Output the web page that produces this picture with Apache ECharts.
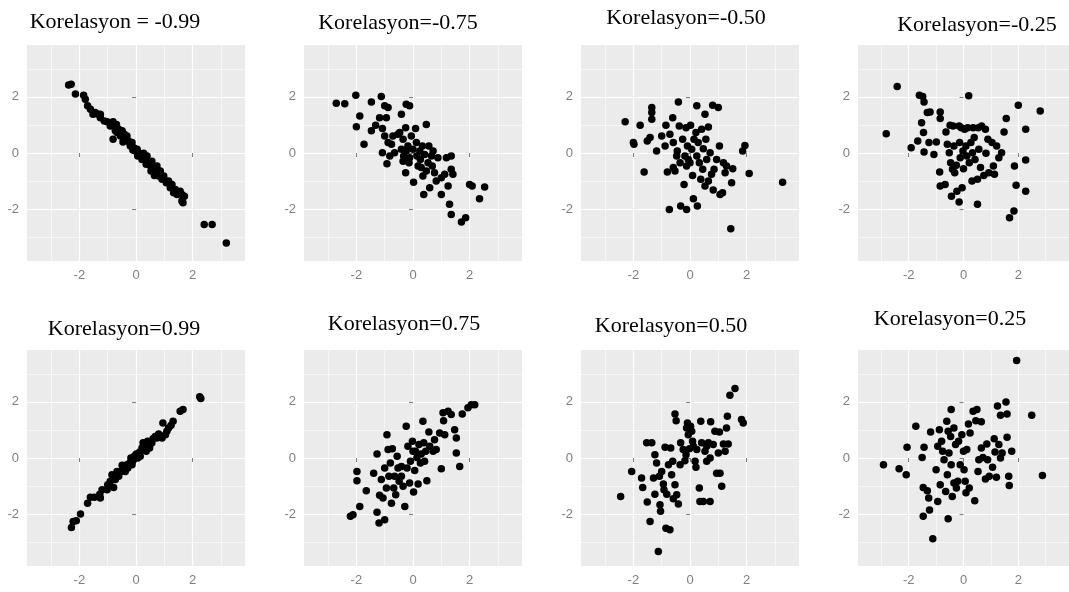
<!DOCTYPE html>
<html>
<head>
<meta charset="utf-8">
<script src="https://cdn.jsdelivr.net/npm/echarts@6/dist/echarts.min.js"></script>
<style>
html,body{margin:0;padding:0;background:#fff;}
#chart{width:1069px;height:592px;}
</style>
</head>
<body>
<div id="chart"></div>
<script>
// ---- data ----
const titles = ["Korelasyon = -0.99","Korelasyon=-0.75","Korelasyon=-0.50","Korelasyon=-0.25",
                "Korelasyon=0.99","Korelasyon=0.75","Korelasyon=0.50","Korelasyon=0.25"];
const majorTicks = [-2, 0, 2];
const minorTicks = [-3, -1, 1, 3];
const axisMin = -3.85, axisMax = 3.85;

const corrNeg099 = [[-2.38,2.42],[-2.29,2.45],[-2.14,2.10],[-1.85,2.06],[-1.79,1.92],[-1.71,1.68],[-1.61,1.56],[-1.44,1.44],[-1.35,1.38],[-1.26,1.26],[-1.12,1.14],[-1.02,1.11],[-0.81,1.11],[-0.79,0.96],[-0.73,0.79],[-0.81,0.49],[-0.67,0.73],[-0.61,0.85],[-0.55,0.61],[-0.49,0.79],[-0.44,0.55],[-0.41,0.67],[-0.34,0.49],[-0.26,0.43],[-0.20,0.25],[-0.14,0.37],[-0.08,0.19],[-0.02,0.07],[0.04,0.13],[0.09,0.01],[0.15,-0.11],[0.27,-0.01],[0.33,-0.20],[0.39,-0.11],[0.45,-0.35],[0.51,-0.46],[0.56,-0.29],[0.62,-0.58],[0.68,-0.70],[0.74,-0.46],[0.80,-0.82],[0.86,-0.64],[0.92,-0.94],[0.98,-0.82],[1.07,-1.06],[1.15,-1.00],[1.21,-1.24],[1.27,-1.12],[1.33,-1.42],[1.39,-1.30],[1.45,-1.48],[1.56,-1.36],[1.62,-1.48],[1.71,-1.54],[1.66,-1.77],[1.62,-1.71],[2.41,-2.55],[2.69,-2.55],[3.19,-3.21],[-0.91,0.96],[-0.69,1.02],[-0.58,0.70],[-0.46,0.39],[-0.32,0.61],[-0.22,0.35],[-0.11,0.11],[0.06,-0.11],[0.21,-0.23],[0.36,-0.40],[0.53,-0.64],[0.65,-0.80],[-1.26,1.38],[-1.52,1.38]];
const corrNeg075 = [[-2.71,1.77],[-2.41,1.76],[-2.02,2.06],[-1.88,1.32],[-2.0,0.94],[-1.73,0.31],[-1.47,1.82],[-1.47,0.79],[-1.32,0.99],[-1.12,2.01],[-1.18,1.26],[-1.0,1.68],[-0.88,1.62],[-0.94,1.26],[-1.08,0.87],[-1.0,0.61],[-1.08,0.01],[-0.92,-0.38],[-0.82,-0.11],[-0.88,0.37],[-0.71,0.61],[-0.53,0.67],[-0.41,1.38],[-0.47,0.73],[-0.24,1.74],[-0.12,1.68],[-0.35,0.49],[-0.26,0.90],[-0.24,0.07],[-0.41,0.13],[-0.35,-0.29],[-0.26,-0.70],[-0.18,0.25],[-0.12,-0.17],[-0.06,0.61],[0,0.13],[0.02,-1.04],[0.09,0.87],[0.12,0.37],[0.14,-0.11],[0.18,-0.46],[0.24,0.07],[0.26,-0.23],[0.33,0.25],[0.35,-0.82],[0.38,-1.48],[0.41,-0.05],[0.47,1.02],[0.53,-0.35],[0.56,0.25],[0.59,-1.24],[0.65,-0.11],[0.71,0.07],[0.76,-0.70],[0.82,-1.0],[0.88,-0.17],[1.0,-1.48],[1.0,-0.88],[1.12,-0.76],[1.18,-0.17],[1.24,-1.18],[1.35,-0.11],[1.35,-0.58],[1.41,-0.76],[1.29,-1.83],[1.35,-2.19],[1.71,-2.46],[1.86,-2.31],[2.0,-1.12],[2.09,-1.18],[2.35,-1.63],[2.53,-1.21],[-0.76,0.31],[-0.65,0.01],[-0.33,-0.11],[-0.14,-0.35],[0.29,-0.52],[0.47,-0.64],[0.68,-0.46]];
const corrNeg050 = [[-2.29,1.11],[-2.0,0.37],[-1.98,0.31],[-1.76,0.99],[-1.62,-0.68],[-1.51,0.43],[-1.41,0.55],[-1.35,1.62],[-1.35,1.44],[-1.35,1.20],[-1.18,0.07],[-1.0,0.61],[-0.88,0.25],[-0.85,0.99],[-0.80,-0.68],[-0.73,-2.01],[-0.71,0.67],[-0.61,1.26],[-0.59,0.37],[-0.59,-0.52],[-0.53,-0.64],[-0.47,-0.11],[-0.45,0.07],[-0.41,1.82],[-0.38,0.96],[-0.35,-0.35],[-0.33,-1.89],[-0.26,0.49],[-0.21,-1.12],[-0.18,-0.11],[-0.14,0.90],[-0.12,-2.01],[-0.09,0.25],[-0.06,-0.23],[0,-0.35],[0.02,0.99],[0.06,0.13],[0.09,-0.80],[0.12,-1.63],[0.14,0.49],[0.21,0.73],[0.24,1.68],[0.26,-1.89],[0.29,0.37],[0.33,-0.35],[0.38,-0.94],[0.41,0.85],[0.47,0.15],[0.53,1.38],[0.53,-1.18],[0.56,0.49],[0.59,-0.23],[0.65,0.93],[0.65,-1.0],[0.71,0.01],[0.76,-0.76],[0.80,1.70],[0.82,-1.32],[0.85,-0.58],[0.94,-0.23],[1.0,1.62],[1.04,0.25],[1.06,-1.48],[1.15,-1.42],[1.18,-0.35],[1.24,-0.70],[1.29,-0.46],[1.44,-2.70],[1.47,-1.06],[1.51,-0.56],[1.86,0.07],[1.94,0.27],[2.09,-0.73],[3.27,-1.04],[0.24,-0.11],[0.45,-0.58],[-0.12,-0.46]];
const corrNeg025 = [[-2.82,0.69],[-2.42,2.37],[-1.91,0.19],[-1.67,0.43],[-1.61,2.06],[-1.49,2.01],[-1.44,1.82],[-1.53,1.08],[-1.46,0.73],[-1.44,0.04],[-1.32,1.44],[-1.26,0.37],[-1.22,1.46],[-1.08,-0.05],[-0.99,0.39],[-0.87,-0.68],[-0.85,1.46],[-0.85,1.23],[-0.85,-1.18],[-0.67,-1.12],[-0.64,0.75],[-0.59,0.31],[-0.52,0.01],[-0.49,0.99],[-0.47,-0.35],[-0.44,-1.54],[-0.40,-0.58],[-0.38,0.96],[-0.35,0.25],[-0.26,-0.44],[-0.24,-1.36],[-0.16,-1.75],[-0.16,0.96],[-0.14,0.37],[-0.12,-0.17],[-0.08,0.90],[-0.05,-1.24],[-0.02,0.07],[0,-0.56],[0.04,0.85],[0.09,0.25],[0.12,-0.11],[0.15,0.90],[0.19,2.04],[0.21,-0.35],[0.27,0.37],[0.31,-1.0],[0.33,0.01],[0.35,0.90],[0.39,0.55],[0.42,-0.23],[0.51,-0.94],[0.51,-1.83],[0.54,0.90],[0.56,0.13],[0.66,0.96],[0.74,-0.80],[0.80,0.85],[0.82,-0.01],[0.89,0.49],[0.92,-0.70],[1.04,0.37],[1.09,-0.46],[1.13,-0.76],[1.21,0.25],[1.29,-0.17],[1.39,0.01],[1.48,0.75],[1.56,1.23],[1.84,-2.07],[1.68,-2.31],[1.86,-0.46],[1.92,-1.15],[2.0,1.70],[2.27,0.85],[2.27,-0.25],[2.27,-1.36],[2.80,1.50],[0.62,-0.52],[-0.32,-0.70]];
const corrPos099 = [[-2.28,-2.48],[-2.22,-2.26],[-2.11,-2.24],[-1.96,-2.0],[-1.71,-1.61],[-1.61,-1.40],[-1.47,-1.40],[-1.28,-1.29],[-1.2,-1.13],[-1.0,-0.95],[-0.91,-0.83],[-0.85,-0.60],[-0.79,-1.05],[-0.73,-0.77],[-0.61,-0.65],[-0.53,-0.48],[-0.44,-0.36],[-0.38,-0.48],[-0.32,-0.24],[-0.22,-0.18],[-0.18,0],[-0.11,-0.10],[-0.06,0.06],[0.01,0.14],[0.06,0],[0.13,0.21],[0.21,0.36],[0.25,0.54],[0.33,0.42],[0.41,0.60],[0.51,0.50],[0.60,0.69],[0.68,0.77],[0.80,0.86],[0.92,0.71],[0.95,1.25],[1.09,0.95],[1.15,1.07],[1.24,1.17],[1.31,1.31],[1.56,1.67],[1.66,1.73],[2.25,2.18],[2.29,2.12],[-0.67,-0.48],[-0.49,-0.26],[-0.29,-0.36],[-0.14,-0.24],[0.15,0.06],[0.36,0.24],[0.48,0.36],[-1.26,-1.43],[-1.02,-1.13],[0.56,0.54],[0.74,0.71],[1.04,0.83]];
const corrPos075 = [[-2.21,-2.08],[-2.12,-2.02],[-1.88,-1.73],[-1.98,-0.48],[-1.98,-0.81],[-1.65,-1.17],[-1.39,-0.54],[-1.27,0.14],[-1.27,-1.93],[-1.2,-2.32],[-1.18,-1.33],[-1.12,-0.77],[-1.06,-1.43],[-1.0,-2.20],[-1.0,-0.36],[-0.94,-1.07],[-0.92,0.83],[-0.88,0.30],[-0.85,-0.65],[-0.80,-0.18],[-0.76,-1.61],[-0.73,0.33],[-0.68,-1.07],[-0.65,-0.65],[-0.61,-1.31],[-0.56,0.06],[-0.49,-0.83],[-0.41,-0.30],[-0.35,-1.01],[-0.29,-1.73],[-0.24,1.13],[-0.21,-0.36],[-0.18,0.42],[-0.12,-0.89],[-0.09,-0.12],[-0.02,0.60],[0.02,-1.21],[0.06,-0.45],[0.09,0.24],[0.14,0.02],[0.18,-0.93],[0.21,0.48],[0.26,-0.18],[0.29,0.14],[0.35,1.31],[0.38,0.54],[0.41,-0.12],[0.45,0.24],[0.49,-0.81],[0.56,0.93],[0.59,0.42],[0.71,0.24],[0.76,0.65],[0.82,0.30],[0.94,0.89],[1.0,-0.38],[1.06,1.61],[1.08,1.33],[1.12,0.83],[1.24,1.67],[1.35,1.55],[1.47,1.01],[1.53,0.71],[1.53,0.18],[1.65,-0.30],[1.74,1.57],[1.94,1.79],[2.06,1.90],[2.18,1.90],[-0.53,-0.36],[-0.41,-0.65],[0,0.24]];
const corrPos050 = [[-2.45,-1.37],[-2.06,-0.48],[-1.71,-0.71],[-1.67,-1.05],[-1.53,0.54],[-1.51,-1.57],[-1.41,-2.26],[-1.35,0.54],[-1.29,-0.71],[-1.24,0.12],[-1.24,-1.29],[-1.18,-0.18],[-1.12,-3.33],[-1.08,-0.65],[-1.06,-1.67],[-1.04,-1.90],[-1.0,-0.48],[-0.94,-0.93],[-0.92,-1.13],[-0.88,0.38],[-0.85,-2.5],[-0.82,-1.29],[-0.76,-0.24],[-0.71,-2.56],[-0.68,0.36],[-0.65,-0.60],[-0.61,-0.12],[-0.59,-1.45],[-0.53,-0.95],[-0.53,1.57],[-0.49,1.33],[-0.47,-1.31],[-0.41,-1.64],[-0.33,0.54],[-0.24,0.30],[-0.18,-0.10],[-0.14,0.12],[-0.12,1.07],[-0.09,1.25],[-0.06,0.83],[-0.02,0.33],[0.02,1.13],[0.06,0.95],[0.09,0.60],[0.12,0.42],[0.18,-0.12],[0.21,-0.33],[0.24,0.30],[0.33,-1.07],[0.35,-1.55],[0.38,1.31],[0.41,0.54],[0.47,-1.55],[0.53,0.24],[0.59,0.42],[0.65,0.54],[0.71,-1.55],[0.73,1.29],[0.71,0],[0.82,0.48],[0.88,0.95],[0.94,-0.54],[1.0,0.18],[1.04,0.93],[1.06,-0.54],[1.12,-1.01],[1.18,0.50],[1.24,0.24],[1.29,1.07],[1.32,1.49],[1.35,0.50],[1.41,2.24],[1.59,2.48],[1.82,1.37],[1.88,1.25],[-0.35,-0.24],[0.59,-0.12]];
const corrPos025 = [[-2.92,-0.24],[-2.35,-0.38],[-2.09,-0.60],[-2.06,0.38],[-1.74,1.13],[-1.51,0.02],[-1.44,0.38],[-1.47,-1.05],[-1.47,-2.08],[-1.32,-1.17],[-1.27,-1.43],[-1.24,-1.85],[-1.2,0.93],[-1.12,-2.88],[-1.0,-0.42],[-0.94,-1.55],[-0.88,1.01],[-0.85,-0.95],[-0.80,0.60],[-0.76,0.24],[-0.71,-0.06],[-0.65,-1.19],[-0.61,1.31],[-0.59,-0.60],[-0.56,-2.17],[-0.56,0.95],[-0.53,0.18],[-0.47,0.77],[-0.45,1.73],[-0.45,-0.24],[-0.41,-1.37],[-0.35,1.07],[-0.29,0.48],[-0.26,-1.07],[-0.21,-0.83],[-0.18,0.60],[-0.12,-0.24],[-0.06,0.83],[0,0.24],[0.02,-0.42],[0.06,-0.83],[0.09,-1.24],[0.12,0.30],[0.18,1.21],[0.21,-1.07],[0.24,0.89],[0.35,1.67],[0.41,-1.52],[0.45,1.33],[0.49,1.73],[0.53,-0.48],[0.56,-0.06],[0.65,1.29],[0.65,0.36],[0.71,0.02],[0.80,-0.75],[0.85,0.50],[0.88,-0.06],[0.94,-0.65],[1.06,-0.33],[1.12,0.69],[1.15,0.21],[1.2,-0.69],[1.24,1.85],[1.29,0.48],[1.35,1.52],[1.35,0],[1.41,0.18],[1.55,2.0],[1.59,1.57],[1.59,0.74],[1.65,-0.65],[1.67,-0.98],[1.76,0.24],[1.94,3.48],[2.49,1.52],[2.88,-0.62],[-0.94,0.42],[-0.35,-0.89]];

const panelData = [corrNeg099, corrNeg075, corrNeg050, corrNeg025, corrPos099, corrPos075, corrPos050, corrPos025];

// ---- layout ----
const gridLefts = [27, 304, 581, 858];
const gridTops = [45, 350];
const gridW = 218, gridH = 216;
const titlePos = [[115,22],[398,23],[686,18],[977,25],[124,329],[404,324],[671,326],[950,319]];

const grids = [], xAxes = [], yAxes = [], series = [], graphics = [];
const labelColor = '#7f7f7f';
for (let i = 0; i < 8; i++) {
  const row = Math.floor(i / 4), col = i % 4;
  grids.push({left: gridLefts[col], top: gridTops[row], width: gridW, height: gridH,
    show: true, backgroundColor: '#EBEBEB', borderWidth: 0, containLabel: false});
}
function majorAxis(i) {
  return {
    gridIndex: i, type: 'value', min: axisMin, max: axisMax,
    axisLine: {show: false},
    axisTick: {show: true, length: 4, customValues: majorTicks, lineStyle: {color: labelColor, width: 1}},
    axisLabel: {show: true, customValues: majorTicks, color: labelColor, fontSize: 13,
      fontFamily: 'Liberation Sans, Arial, sans-serif', margin: 8},
    splitLine: {show: true, lineStyle: {color: '#ffffff', width: 1.2}},
    z: 2
  };
}
function minorAxis(i) {
  return {
    gridIndex: i, type: 'value', min: axisMin, max: axisMax,
    axisLine: {show: false},
    axisTick: {show: false, customValues: minorTicks},
    axisLabel: {show: false, customValues: minorTicks},
    splitLine: {show: true, lineStyle: {color: '#ffffff', width: 0.6}},
    z: 1
  };
}
for (let i = 0; i < 8; i++) { xAxes.push(majorAxis(i)); yAxes.push(majorAxis(i)); }
for (let i = 0; i < 8; i++) { xAxes.push(minorAxis(i)); yAxes.push(minorAxis(i)); }
for (let i = 0; i < 8; i++) {
  series.push({type: 'scatter', xAxisIndex: i, yAxisIndex: i, data: panelData[i],
    symbol: 'circle', symbolSize: 7.5, itemStyle: {color: '#000000', opacity: 1}, silent: true, z: 5});
  graphics.push({type: 'text', x: titlePos[i][0], y: titlePos[i][1],
    style: {text: titles[i], font: '22px "Liberation Serif", "Times New Roman", serif', fill: '#000',
      align: 'center', verticalAlign: 'middle', textAlign: 'center', textVerticalAlign: 'middle'}});
}

const chart = echarts.init(document.getElementById('chart'), null, {renderer: 'canvas'});
chart.setOption({
  backgroundColor: '#ffffff',
  animation: false,
  grid: grids,
  xAxis: xAxes,
  yAxis: yAxes,
  series: series,
  graphic: graphics
});
</script>
</body>
</html>
